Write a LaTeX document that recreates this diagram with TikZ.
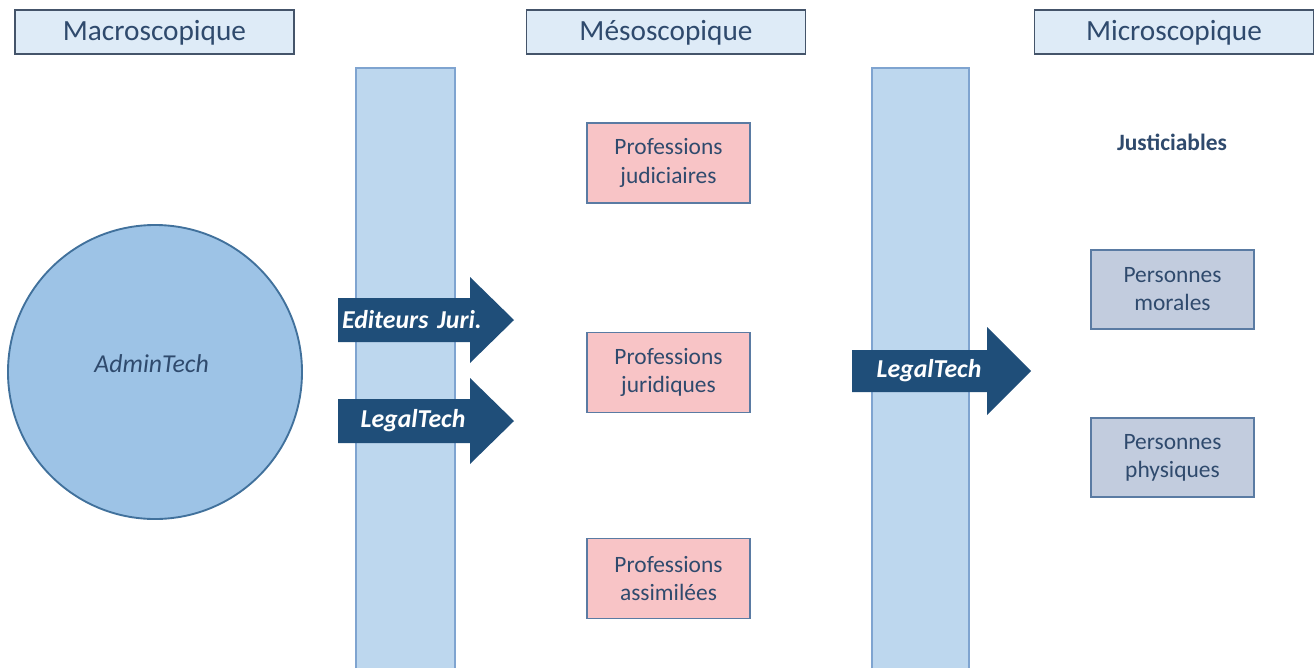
\documentclass[tikz,border=0pt]{standalone}
\usepackage{fontspec}
\setmainfont{Carlito}
\usepackage{tikz}
\usepackage{xcolor}

\definecolor{headfill}{HTML}{DEEBF7}
\definecolor{headline}{HTML}{44546A}
\definecolor{barfill}{HTML}{BDD7EE}
\definecolor{barline}{HTML}{7FA4D0}
\definecolor{circfill}{HTML}{9DC3E6}
\definecolor{circline}{HTML}{41719C}
\definecolor{pinkfill}{HTML}{F8C4C6}
\definecolor{boxline}{HTML}{5A7BA3}
\definecolor{greyfill}{HTML}{C2CCDE}
\definecolor{arrowblue}{HTML}{1F4E79}
\definecolor{textblue}{HTML}{2F4A6D}

\begin{document}
\begin{tikzpicture}[x=0.03cm,y=-0.03cm,
    levelbox/.style={draw=headline,fill=headfill,line width=1pt,minimum width=8.37cm,minimum height=1.32cm,inner sep=0pt,text=textblue,text depth=0.5ex,font=\fontsize{25}{30}\selectfont},
    proitem/.style={draw=boxline,fill=pinkfill,line width=1pt,minimum width=4.89cm,minimum height=2.4cm,align=center,inner sep=0pt,text=textblue,font=\fontsize{20}{24}\selectfont},
    personitem/.style={proitem,fill=greyfill,minimum height=2.37cm},
    flowtext/.style={text=white,inner sep=0pt,font=\fontsize{22}{26}\selectfont\bfseries\itshape}]
      \useasboundingbox (0,0) rectangle (1314,668);

      % bandes verticales
      \fill [barfill] (356,68) rectangle (455,668);
      \draw [barline,line width=1pt] (356,668) -- (356,68) -- (455,68) -- (455,668);
      \fill [barfill] (872,68) rectangle (969,668);
      \draw [barline,line width=1pt] (872,668) -- (872,68) -- (969,68) -- (969,668);

      \node [levelbox] (macro) at (154.5,32) {Macroscopique};
      \node [levelbox] (meso) at (666,32) {Mésoscopique};
      \node [levelbox] (micro) at (1174,32) {Microscopique};

      \node [draw=circline,fill=circfill,circle,line width=1.6pt,minimum size=8.82cm,
        label={[text=textblue,font=\fontsize{22}{26}\selectfont\itshape,yshift=0.24cm,xshift=-0.1cm]center:AdminTech}] (admin) at (155,372) {};

      % fleches
      \fill [arrowblue] (338,298) -- (470,298) -- (470,277) -- (514,320) -- (470,363) -- (470,342) -- (338,342) -- cycle;
      \fill [arrowblue] (338,399) -- (470,399) -- (470,378) -- (514,421) -- (470,464) -- (470,443) -- (338,443) -- cycle;
      \fill [arrowblue] (852,350) -- (987,350) -- (987,327) -- (1031,371) -- (987,415) -- (987,392) -- (852,392) -- cycle;
      \node [flowtext] (editeurs) at (412,320) {Editeurs\hspace{0.35em}Juri.};
      \node [flowtext] (legal1) at (413,421) {LegalTech};
      \node [flowtext] (legal2) at (929,371) {LegalTech};

      \node [proitem] (judiciaires) at (668.5,163) {Professions\\judiciaires};
      \node [proitem] (juridiques) at (668.5,372.5) {Professions\\juridiques};
      \node [proitem] (assimilees) at (668.5,578.5) {Professions\\assimilées};

      \node [text=textblue,font=\fontsize{20}{24}\selectfont\bfseries] (justiciables) at (1172,142) {Justiciables};
      \node [personitem] (morales) at (1172.5,289.5) {Personnes\\morales};
      \node [personitem] (physiques) at (1172.5,457.5) {Personnes\\physiques};
    \end{tikzpicture}
\end{document}
